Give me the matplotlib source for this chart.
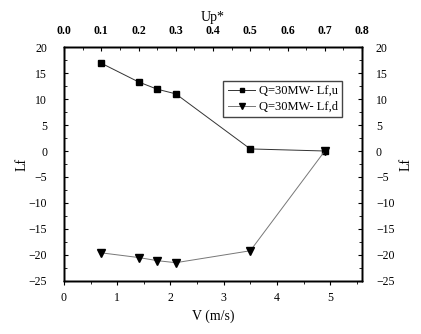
import matplotlib
matplotlib.use("Agg")
import matplotlib.pyplot as plt
import numpy as np

plt.rcParams['font.family'] = ['Liberation Serif', 'DejaVu Serif']
plt.rcParams['font.size'] = 8.5

up_star = [0.1, 0.2, 0.25, 0.3, 0.5, 0.7]
velocity = [0.7, 1.4, 1.75, 2.1, 3.5, 4.9]
lf_u = [16.9, 13.3, 11.9, 11.0, 0.4, 0.0]
lf_d = [-19.6, -20.5, -21.1, -21.5, -19.2, 0.0]
labels = ["Q=30MW- Lf,u", "Q=30MW- Lf,d"]

fig = plt.figure(figsize=(4.21, 3.34), dpi=100)
ax = fig.add_axes([0.152, 0.159, 0.708, 0.700])

ax.plot(velocity, lf_u, color='#333333', lw=0.7, marker='s', ms=5,
        mfc='black', mec='black', label=labels[0])
ax.plot(velocity, lf_d, color='#777777', lw=0.7, marker='v', ms=5.5,
        mfc='black', mec='black', label=labels[1])

ax.set_xlim(0, 5.6)
ax.set_ylim(-25, 20)
ax.set_xticks(np.arange(0, 6, 1))
ax.set_xticks(np.arange(0.5, 5.6, 1), minor=True)
ax.set_yticks(np.arange(-25, 21, 5))
ax.set_yticks(np.arange(-22.5, 20, 5), minor=True)
ax.set_xlabel('V (m/s)', fontsize=10, labelpad=4)
ax.set_ylabel('Lf', fontsize=10, labelpad=0)
ax.tick_params(axis='x', which='both', direction='out', pad=5)
ax.tick_params(axis='y', which='both', direction='in', pad=12)
ax.tick_params(which='major', length=3, width=0.8)
ax.tick_params(which='minor', length=2, width=0.6)

# top axis: dimensionless velocity
top = ax.twiny()
top.set_xlim(0, 0.8)
top.set_xticks(np.arange(0, 0.81, 0.1))
top.set_xticks(np.arange(0.05, 0.8, 0.1), minor=True)
top.set_xticklabels([f"{v:.1f}" for v in np.arange(0, 0.81, 0.1)], fontweight='bold')
top.set_xlabel('Up*', fontsize=10, labelpad=3)
top.tick_params(which='both', direction='in', pad=7)
top.tick_params(which='major', length=3, width=0.8)
top.tick_params(which='minor', length=2, width=0.6)

# right axis mirrors Lf
right = ax.twinx()
right.set_ylim(-25, 20)
right.set_yticks(np.arange(-25, 21, 5))
right.set_yticks(np.arange(-22.5, 20, 5), minor=True)
right.set_ylabel('Lf', fontsize=10, labelpad=4)
right.tick_params(which='both', direction='in', pad=10)
right.tick_params(which='major', length=3, width=0.8)
right.tick_params(which='minor', length=2, width=0.6)

for a in (ax, top, right):
    for s in a.spines.values():
        s.set_linewidth(1.0)

ax.legend(loc='upper right', bbox_to_anchor=(0.955, 0.88), fontsize=9,
          frameon=True, fancybox=False, edgecolor='#444444', framealpha=1,
          markerscale=0.7, handlelength=2.2, handletextpad=0.3,
          borderpad=0.35, labelspacing=0.25)

fig.savefig('out.png', dpi=100)
